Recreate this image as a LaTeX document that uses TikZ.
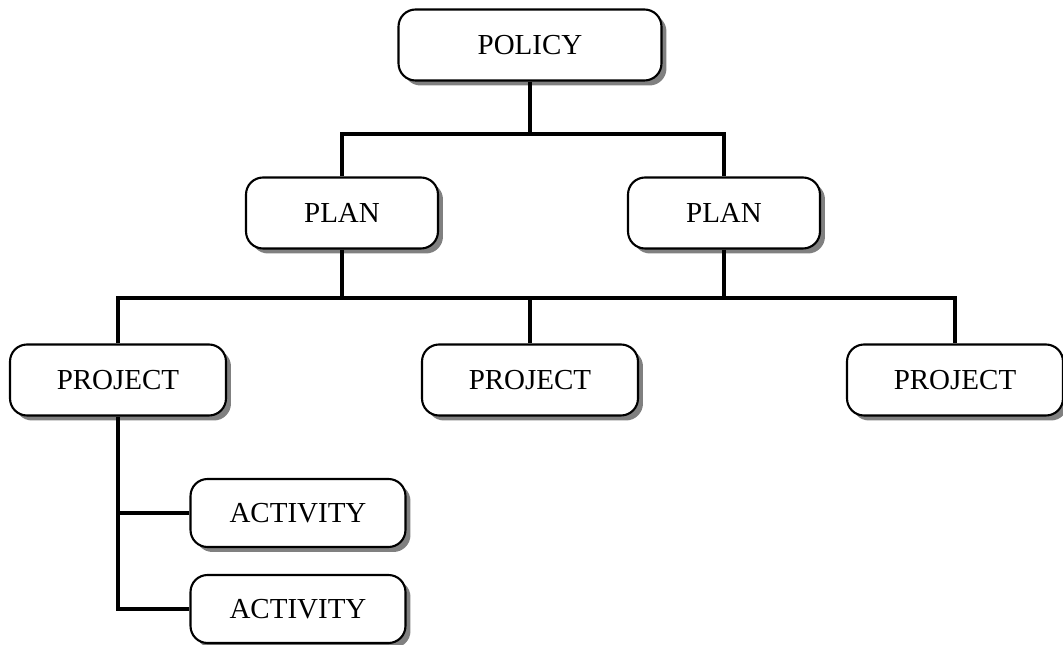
\documentclass[tikz,border=0pt]{standalone}
\usepackage{fontspec}
\setmainfont{Liberation Serif}
\usetikzlibrary{positioning,shadows}

\begin{document}
\begin{tikzpicture}[x=0.02cm, y=-0.02cm,
    every node/.style={font=\fontsize{16.5}{20}\selectfont},
    box/.style={draw, line width=1.2pt, rounded corners=0.34cm, fill=white,
        inner sep=0pt, minimum height=1.42cm,
        drop shadow={shadow xshift=0.1cm, shadow yshift=-0.1cm, fill=black!50, opacity=1}},
    link/.style={line width=2.3pt}
    ]
\useasboundingbox (0,0) rectangle (1063,645);
% levels
\node[box, minimum width=5.26cm] (policy) at (530,45)  {POLICY};
\node[box, minimum width=3.84cm] (plan1)  at (342,213) {PLAN};
\node[box, minimum width=3.84cm] (plan2)  at (724,213) {PLAN};
\node[box, minimum width=4.32cm] (proj1)  at (118,380) {PROJECT};
\node[box, minimum width=4.32cm] (proj2)  at (530,380) {PROJECT};
\node[box, minimum width=4.32cm] (proj3)  at (955,380) {PROJECT};
\node[box, minimum width=4.3cm, minimum height=1.36cm] (act1) at (298,513) {ACTIVITY};
\node[box, minimum width=4.3cm, minimum height=1.36cm] (act2) at (298,609) {ACTIVITY};
% connectors
\draw[link] (policy.south) -- ++(0,52) coordinate (bus1);
\draw[link] (plan1.north) |- (bus1) -| (plan2.north);
\draw[link] (plan1.south) -- ++(0,48) coordinate (bus2);
\draw[link] (proj1.north) |- (bus2) -| (proj3.north);
\draw[link] (plan2.south) -- (plan2.south |- bus2);
\draw[link] (proj2.north) -- (proj2.north |- bus2);
\draw[link] (proj1.south) |- (act2.west);
\draw[link] (proj1.south |- act1.west) -- (act1.west);
\end{tikzpicture}
\end{document}
